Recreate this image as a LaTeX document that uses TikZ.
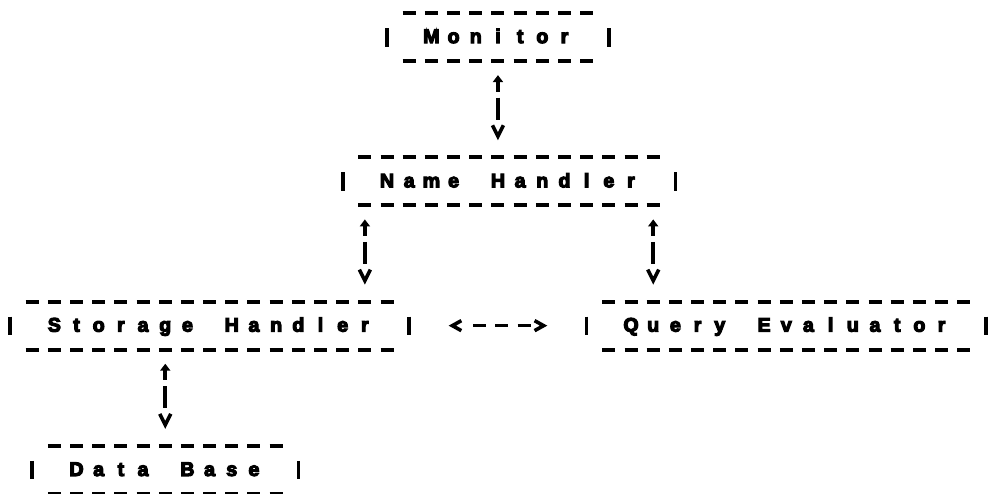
\documentclass[tikz,border=0pt]{standalone}
\usepackage{fontspec}
\setmainfont{Liberation Sans}
\newfontfamily\boxfont{Liberation Sans}[BoldFeatures={FakeBold=6}]
\usetikzlibrary{arrows.meta,calc}

% one character cell of the fixed grid
\newlength\cw
\setlength\cw{22.18pt}
% set a word (spaces written as ~) one character per grid cell
\def\mono#1{\monoaux#1\relax}
\def\monoaux#1{\ifx\relax#1\else\makebox[\cw]{#1}\expandafter\monoaux\fi}

\tikzset{
  modbox/.style={inner sep=0pt, outer sep=0pt,
    font=\boxfont\bfseries\fontsize{19.6}{19.6}\selectfont,
    text height=14pt, text depth=2pt, minimum height=48.1pt},
  dashrow/.style={line width=4pt, dash pattern=on 13pt off 9.18pt},
  sidebar/.style={line width=3.6pt},
  vlink/.style={line width=3.6pt,
    {Triangle[length=7pt,width=10pt]}-{Straight Barb[length=11pt,width=11pt]},
    shorten <=14pt, shorten >=17pt,
    dash pattern=on 10pt off 6pt on 22pt off 60pt},
  hlink/.style={line width=3.6pt,
    {Straight Barb[length=9pt,width=10pt]}-{Straight Barb[length=9pt,width=10pt]},
    shorten <=39.4pt, shorten >=39.4pt,
    dash pattern=on 0pt off 19pt on 13pt off 9.18pt on 13pt off 9.18pt on 13pt off 40pt},
}

% dashed top and bottom rows plus the two side bars of a module box
\newcommand\frameit[1]{%
  \draw[dashrow] ($(#1.north west)+(15.68,0)$) -- ($(#1.north east)+(-15.68,0)$);
  \draw[dashrow] ($(#1.south west)+(15.68,0)$) -- ($(#1.south east)+(-15.68,0)$);
  \draw[sidebar] ($(#1.west)+(0,-9)$) -- ($(#1.west)+(0,9.5)$);
  \draw[sidebar] ($(#1.east)+(0,-9)$) -- ($(#1.east)+(0,9.5)$);
}

\begin{document}
\begin{tikzpicture}[x=1pt, y=-1pt]
  \useasboundingbox (0,0) rectangle (988,494);
  \fill[white] (0,0) rectangle (988,494);
  \clip (0,0) rectangle (988,494);

  % modules (x = 10 + 22.18 * column, y = 13 + 24.05 * row)
  \node[modbox, minimum width=221.8pt]  (mon)   at (497.96,37.05)  {\mono{Monitor}};
  \node[modbox, minimum width=332.7pt]  (name)  at (509.05,181.35) {\mono{Name~Handler}};
  \node[modbox, minimum width=399.24pt] (stor)  at (209.62,325.65) {\mono{Storage~Handler}};
  \node[modbox, minimum width=399.24pt] (query) at (786.30,325.65) {\mono{Query~Evaluator}};
  \node[modbox, minimum width=266.16pt] (data)  at (165.26,469.95) {\mono{Data~Base}};

  \frameit{mon}
  \frameit{name}
  \frameit{stor}
  \frameit{query}
  \frameit{data}

  % links between modules
  \coordinate (nl) at ($(name.south west)+(22.18,0)$);
  \coordinate (nr) at ($(name.south east)+(-22.18,0)$);
  \draw[vlink] (mon.south) -- (mon.south |- name.north);
  \draw[vlink] (nl) -- (nl |- stor.north);
  \draw[vlink] (nr) -- (nr |- query.north);
  \draw[vlink] (data.north |- stor.south) -- (data.north);
  \draw[hlink] (stor.east) -- (query.west);
\end{tikzpicture}
\end{document}
